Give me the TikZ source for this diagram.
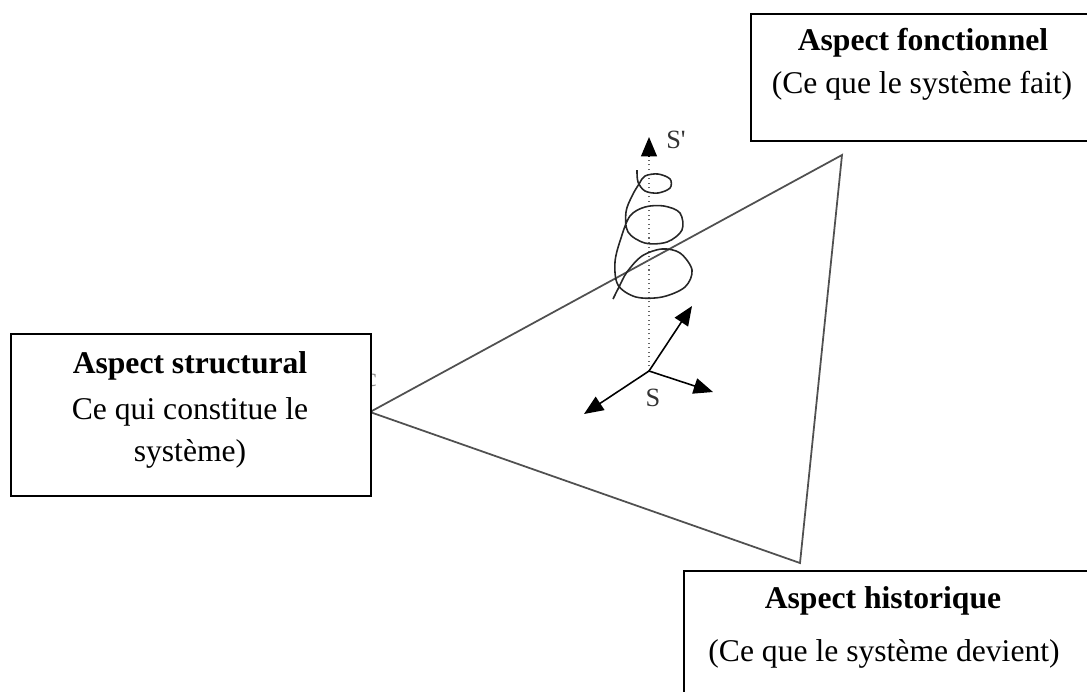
\documentclass[tikz,border=0pt]{standalone}
\usepackage{fontspec}
\setmainfont{Liberation Serif}
\usetikzlibrary{arrows.meta, positioning}

\definecolor{trait}{HTML}{505050}

\begin{document}
\begin{tikzpicture}[x=0.02cm, y=-0.02cm,
    cadre/.style={rectangle, draw, line width=1pt, fill=white, anchor=north west},
    titre/.style={font=\fontsize{18}{22}\selectfont\bfseries, inner sep=0pt},
    legende/.style={font=\fontsize{18}{24}\selectfont, inner sep=0pt, align=center},
    repere/.style={draw, line width=0.9pt, -{Triangle[length=11pt, width=9pt]}},
    lettre/.style={font=\fontsize{15}{17}\selectfont\addfontfeatures{Ligatures=TeXOff}, text=black!80, inner sep=0pt}]
    \useasboundingbox (0,0) rectangle (1087,691);

    % sommets du triangle
    \coordinate (vStruct) at (370,412);
    \coordinate (vFonc) at (842,155);
    \coordinate (vHist) at (800,563);
    \draw[trait, line width=1pt, line join=miter] (vStruct) -- (vFonc) -- (vHist) -- cycle;

    % lettre cachee par le cadre
    \node[lettre, text=black!45] (cache) at (371,380) {c};

    % axes en S
    \coordinate (S0) at (649,371);
    \coordinate (Sprime) at (649,137);
    \coordinate (axeA) at (692,306);
    \coordinate (axeB) at (713,392);
    \coordinate (axeC) at (584,414);
    \draw[black!60, line width=0.6pt, dotted] (S0) -- (649,152);
    \draw[repere] (649,156) -- (Sprime);
    \draw[repere] (S0) -- (axeA);
    \draw[repere] (S0) -- (axeB);
    \draw[repere] (S0) -- (axeC);
    \node[lettre] (labS) at (653,398) {S};
    \node[lettre] (labSp) at (676,140) {S'};

    % spirale
    \draw[black!85, line width=0.9pt] plot[smooth, tension=0.55] coordinates {
        (637,170) (638,182) (645,191) (658,193) (670,188) (670,179) (658,174)
        (645,176) (639,184) (632,196) (626,212) (628,232) (645,243) (667,242)
        (682,230) (680,213) (664,206) (645,207) (630,216) (621,238) (615,262)
        (618,285) (636,297) (662,297) (685,287) (692,270) (680,253) (662,249)
        (642,256) (627,272) (619,287) (613,299)};

    % cadres
    \node[cadre, minimum width=7cm, minimum height=2.54cm] (fonc) at (750,13) {};
    \node[cadre, minimum width=7.2cm, minimum height=3.24cm] (struct) at (10,333) {};
    \node[cadre, minimum width=8.4cm, minimum height=2.7cm] (hist) at (683,570) {};

    \node[titre] (foncTitre) at (923,43) {Aspect fonctionnel};
    \node[legende] (foncLegende) at (922,86) {(Ce que le système fait)};

    \node[titre] (structTitre) at (190,366) {Aspect structural};
    \node[legende] (structLegende) at (190,433) {Ce qui constitue le\\système)};

    \node[titre] (histTitre) at (883,601) {Aspect historique};
    \node[legende] (histLegende) at (884,654) {(Ce que le système devient)};
\end{tikzpicture}
\end{document}
